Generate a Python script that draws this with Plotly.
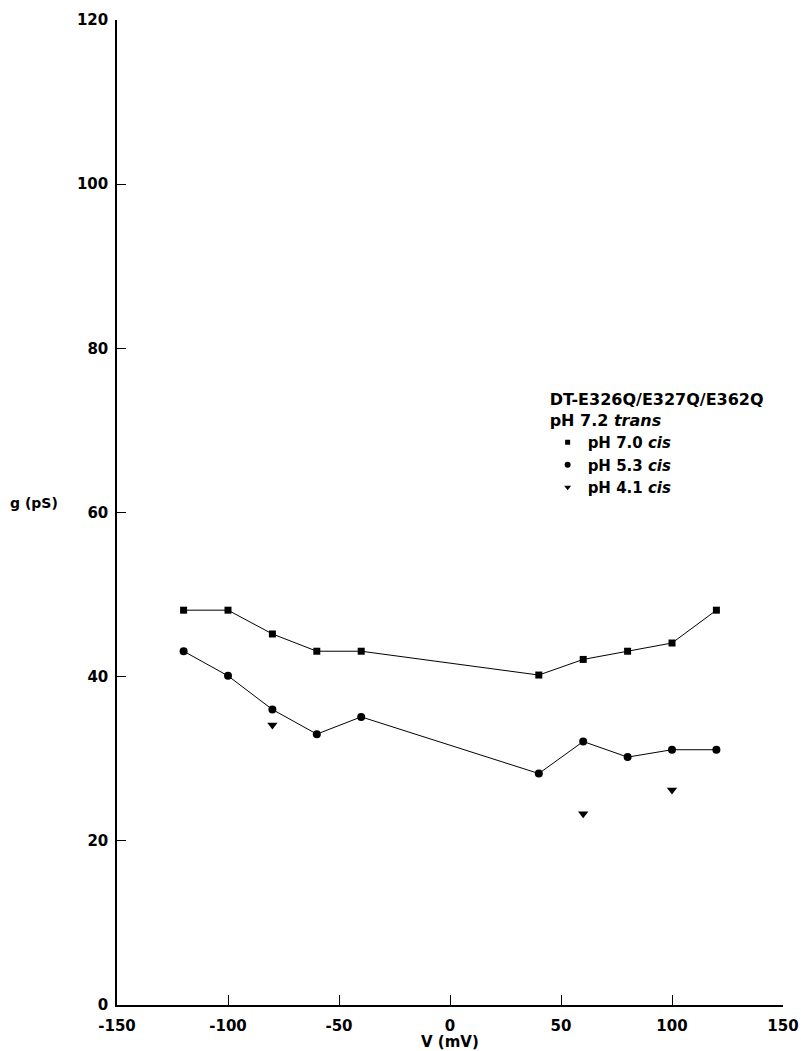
import plotly.graph_objects as go

# Data
v_sq = [-120, -100, -80, -60, -40, 40, 60, 80, 100, 120]
g_sq = [48.1, 48.1, 45.2, 43.1, 43.1, 40.2, 42.1, 43.1, 44.1, 48.1]

v_ci = [-120, -100, -80, -60, -40, 40, 60, 80, 100, 120]
g_ci = [43.1, 40.1, 36.0, 33.0, 35.1, 28.2, 32.1, 30.2, 31.1, 31.1]

v_tr = [-80, 60, 100]
g_tr = [34.1, 23.3, 26.2]

x_ticks = [-150, -100, -50, 0, 50, 100, 150]
y_ticks = [0, 20, 40, 60, 80, 100, 120]

legend_title = "DT-E326Q/E327Q/E362Q<br>pH 7.2 <i>trans</i>"
names = ["pH 7.0 <i>cis</i>", "pH 5.3 <i>cis</i>", "pH 4.1 <i>cis</i>"]

FONT = "DejaVu Sans"
fig = go.Figure()

fig.add_trace(go.Scatter(x=v_sq, y=g_sq, mode="lines+markers",
                         line=dict(color="black", width=1),
                         marker=dict(symbol="square", size=7, color="black"),
                         showlegend=False))
fig.add_trace(go.Scatter(x=v_ci, y=g_ci, mode="lines+markers",
                         line=dict(color="black", width=1),
                         marker=dict(symbol="circle", size=8, color="black"),
                         showlegend=False))
fig.add_trace(go.Scatter(x=v_tr, y=g_tr, mode="markers",
                         marker=dict(symbol="triangle-down", size=9, color="black"),
                         showlegend=False))

# legend-only entries (markers only)
for nm, sym, sz in zip(names, ["square", "circle", "triangle-down"], [5, 6, 6]):
    fig.add_trace(go.Scatter(x=[None], y=[None], mode="markers", name=nm,
                             marker=dict(symbol=sym, size=sz, color="black")))

fig.update_layout(
    width=801, height=1051,
    margin=dict(l=117, r=18, t=20, b=46, autoexpand=False),
    paper_bgcolor="white", plot_bgcolor="white",
    font=dict(family=FONT, color="black", size=15),
    legend=dict(
        title=dict(text=legend_title, font=dict(family=FONT, size=16, weight="bold")),
        font=dict(family=FONT, size=15, weight="bold"),
        x=0.6466, y=0.630, xanchor="left", yanchor="top",
        bgcolor="rgba(0,0,0,0)", itemwidth=30, tracegroupgap=0,
    ),
    showlegend=True,
)

fig.update_xaxes(range=[-150, 150], tickvals=x_ticks, ticktext=[str(t) for t in x_ticks],
                 automargin=False,
                 showgrid=False, zeroline=False, showline=True, linecolor="black", linewidth=1.5,
                 ticks="inside", ticklen=10, tickwidth=1, tickcolor="black",
                 tickfont=dict(family=FONT, size=15, weight="bold"), ticklabelstandoff=6)
fig.update_yaxes(range=[0, 120], tickvals=y_ticks, ticktext=[str(t) for t in y_ticks],
                 automargin=False,
                 showgrid=False, zeroline=False, showline=True, linecolor="black", linewidth=1.5,
                 ticks="inside", ticklen=9, tickwidth=1, tickcolor="black",
                 tickfont=dict(family=FONT, size=15, weight="bold"), ticklabelstandoff=4)

fig.add_annotation(text="g (pS)", xref="paper", yref="paper", x=-0.125, y=1 - (503 - 20) / 985,
                   xanchor="center", yanchor="middle", showarrow=False,
                   font=dict(family=FONT, size=14, weight="bold"))
fig.add_annotation(text="V (mV)", xref="paper", yref="paper", x=0.5, y=-(1042 - 1005) / 985,
                   xanchor="center", yanchor="middle", showarrow=False,
                   font=dict(family=FONT, size=15, weight="bold"))

fig.write_html("out.html",
               config={"displayModeBar": False},
               post_script="document.body.style.margin='0';document.body.style.overflow='hidden';")
